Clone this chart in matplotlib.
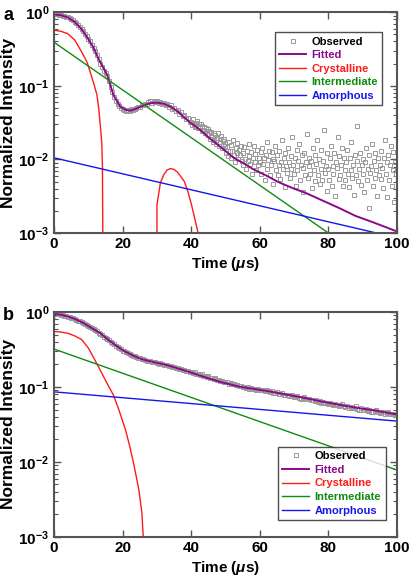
import numpy as np
import matplotlib
matplotlib.use("Agg")
import matplotlib.pyplot as plt
from matplotlib.ticker import FixedLocator, FixedFormatter, LogLocator, NullFormatter

plt.rcParams['font.family'] = ['Liberation Sans', 'DejaVu Sans']
plt.rcParams['font.weight'] = 'bold'
plt.rcParams['mathtext.fontset'] = 'custom'
plt.rcParams['mathtext.rm'] = 'Liberation Sans:bold'
plt.rcParams['mathtext.bf'] = 'Liberation Sans:bold'
plt.rcParams['mathtext.it'] = 'Liberation Sans:italic:bold'

# ---- panel a data ----
# observed, 0 - 39.5 us every 0.5 us
obs_a_early = [0.95, 0.94, 0.94, 0.93, 0.92, 0.90, 0.89, 0.87, 0.85, 0.83,
               0.80, 0.78, 0.74, 0.71, 0.67, 0.63, 0.59, 0.55, 0.51, 0.47,
               0.43, 0.40, 0.36, 0.33, 0.30, 0.26, 0.23, 0.20, 0.18, 0.16,
               0.15, 0.135, 0.115, 0.097, 0.082, 0.071, 0.062, 0.057, 0.053, 0.050,
               0.048, 0.047, 0.046, 0.047, 0.046, 0.048, 0.047, 0.049, 0.050, 0.052,
               0.051, 0.054, 0.055, 0.057, 0.056, 0.060, 0.062, 0.059, 0.063, 0.060,
               0.062, 0.058, 0.061, 0.057, 0.059, 0.055, 0.056, 0.052, 0.054, 0.049,
               0.050, 0.046, 0.047, 0.042, 0.044, 0.039, 0.040, 0.035, 0.037, 0.032]
# observed, 40 - 99.75 us every 0.25 us (units of 1e-3)
obs_a_late = [32.5, 29.1, 35.2, 30.4, 27.3, 31.6, 28.2, 33.7, 26.4, 29.8, 27.1, 30.5, 24.2, 28.6, 25.3, 27.9, 23.1, 26.5, 22.4, 25.7,
              21.3, 24.6, 19.2, 23.4, 20.1, 17.4, 22.7, 18.3, 21.5, 16.2, 19.6, 23.1, 15.4, 18.8, 17.2, 20.6, 14.3, 17.7, 19.1, 15.2,
              16.4, 12.3, 14.7, 11.2, 17.5, 13.1, 10.4, 15.6, 12.8, 18.2, 11.6, 9.3, 14.2, 12.1, 16.8, 10.2, 13.5, 11.4, 15.1, 9.6,
              12.4, 8.3, 14.6, 10.1, 7.4, 13.2, 9.5, 16.3, 11.2, 8.7, 12.6, 6.4, 10.5, 15.2, 9.1, 11.7, 7.2, 13.5, 8.4, 10.3,
              9.2, 12.5, 6.3, 14.1, 8.6, 10.4, 5.2, 11.3, 17.4, 7.5, 9.7, 13.2, 6.1, 8.3, 12.6, 10.1, 4.6, 9.4, 15.3, 7.2,
              11.4, 6.2, 8.5, 13.1, 5.4, 9.2, 18.5, 7.3, 10.6, 4.2, 12.3, 8.1, 6.6, 14.4, 9.3, 5.5, 11.1, 7.4, 20.2, 8.3,
              6.4, 10.3, 4.3, 13.6, 7.1, 9.6, 16.2, 5.3, 8.4, 11.5, 3.6, 7.6, 12.2, 6.1, 9.1, 22.3, 5.6, 8.2, 10.5, 6.3,
              9.4, 4.1, 14.3, 7.2, 5.1, 11.6, 8.6, 18.4, 6.2, 10.2, 4.6, 7.4, 13.3, 5.3, 9.5, 25.1, 6.6, 8.1, 3.7, 12.4,
              7.3, 5.2, 10.6, 15.4, 4.3, 8.2, 6.4, 12.1, 3.2, 9.3, 7.6, 20.4, 5.4, 11.2, 6.1, 8.5, 14.2, 4.4, 10.3, 7.1,
              5.3, 9.2, 13.4, 6.3, 4.2, 10.5, 7.2, 17.1, 5.6, 8.3, 3.3, 11.4, 6.2, 9.6, 28.2, 5.1, 7.5, 12.3, 4.5, 8.4,
              10.2, 6.4, 3.6, 9.1, 14.5, 5.2, 7.3, 2.2, 11.3, 6.6, 8.2, 16.3, 4.3, 9.4, 5.5, 12.2, 7.1, 3.2, 10.4, 6.2,
              8.3, 13.2, 5.4, 7.6, 4.1, 10.3, 18.2, 6.3, 9.2, 3.1, 11.6, 5.2, 8.4, 15.1, 4.3, 7.2, 12.5, 2.6, 9.3, 6.4]

fit_a_t = [0, 2, 4, 6, 8, 10, 11.5, 13, 15.5, 17.3, 19.3, 21, 22.2, 24, 26, 28, 30, 32,
           34, 36, 38, 40, 42.7, 45, 47.6, 50, 52.4, 55, 58, 61.7, 65.5, 70, 73.4, 78,
           83, 88, 93, 100]
fit_a = [0.93, 0.91, 0.85, 0.74, 0.59, 0.43, 0.33, 0.23, 0.14, 0.075, 0.052, 0.047,
         0.046, 0.049, 0.054, 0.058, 0.059, 0.057, 0.052, 0.045, 0.037, 0.031, 0.025,
         0.020, 0.016, 0.013, 0.0105, 0.0090, 0.0074, 0.0061, 0.0049, 0.0040, 0.0035,
         0.0028, 0.0022, 0.0017, 0.0014, 0.00105]

cry_a1_t = [0, 2, 4, 6, 8, 9.6, 10.5, 11.5, 12.5, 13, 13.5, 13.9, 14.1, 14.2]
cry_a1 = [0.57, 0.55, 0.51, 0.42, 0.29, 0.21, 0.155, 0.11, 0.075, 0.05, 0.028, 0.017,
          0.008, 0.001]
cry_a2_t = [30, 30, 31, 32, 33, 34, 35, 36, 37, 38, 39, 40, 41, 42]
cry_a2 = [0.001, 0.0024, 0.0048, 0.0062, 0.0072, 0.0075, 0.0073, 0.0067, 0.0058,
          0.0050, 0.0037, 0.0025, 0.0016, 0.001]

int_a_t = [0, 80]
int_a = [0.39, 0.001]
amo_a_t = [0, 94]
amo_a = [0.0105, 0.001]

# ---- panel b data ----
# observed, 0 - 99.5 us every 0.5 us
obs_b = [0.95, 0.94, 0.93, 0.93, 0.92, 0.90, 0.89, 0.88, 0.87, 0.85,
         0.83, 0.82, 0.80, 0.78, 0.77, 0.75, 0.73, 0.71, 0.69, 0.67,
         0.65, 0.63, 0.61, 0.59, 0.57, 0.55, 0.53, 0.51, 0.49, 0.47,
         0.45, 0.43, 0.42, 0.40, 0.38, 0.37, 0.355, 0.34, 0.33, 0.32,
         0.305, 0.30, 0.29, 0.28, 0.275, 0.265, 0.26, 0.255, 0.25, 0.245,
         0.24, 0.235, 0.233, 0.228, 0.225, 0.222, 0.220, 0.218, 0.214, 0.212,
         0.21, 0.205, 0.206, 0.20, 0.198, 0.195, 0.196, 0.19, 0.188, 0.185,
         0.186, 0.18, 0.178, 0.174, 0.175, 0.17, 0.168, 0.164, 0.165, 0.16,
         0.158, 0.155, 0.156, 0.15, 0.149, 0.145, 0.147, 0.141, 0.14, 0.137,
         0.138, 0.132, 0.133, 0.128, 0.13, 0.124, 0.125, 0.12, 0.121, 0.117,
         0.115, 0.116, 0.111, 0.112, 0.108, 0.11, 0.105, 0.106, 0.103, 0.104,
         0.099, 0.101, 0.098, 0.099, 0.095, 0.097, 0.094, 0.095, 0.092, 0.094,
         0.092, 0.09, 0.091, 0.088, 0.09, 0.087, 0.086, 0.088, 0.084, 0.083,
         0.085, 0.081, 0.08, 0.082, 0.078, 0.077, 0.079, 0.076, 0.075, 0.077,
         0.074, 0.073, 0.075, 0.071, 0.07, 0.072, 0.074, 0.069, 0.068, 0.07,
         0.066, 0.067, 0.065, 0.066, 0.063, 0.064, 0.062, 0.063, 0.061, 0.062,
         0.06, 0.061, 0.059, 0.058, 0.06, 0.057, 0.056, 0.058, 0.059, 0.055,
         0.054, 0.056, 0.053, 0.054, 0.052, 0.053, 0.055, 0.051, 0.05, 0.052,
         0.05, 0.049, 0.051, 0.048, 0.05, 0.047, 0.046, 0.048, 0.049, 0.046,
         0.045, 0.047, 0.046, 0.044, 0.045, 0.047, 0.044, 0.043, 0.044, 0.042]

fit_b_t = [0, 2, 4, 6, 8.6, 11, 13.5, 16, 18.3, 20.5, 23.2, 25.5, 28, 33, 38.8, 44, 49,
           54, 59, 63.6, 68.5, 73.4, 78, 83, 88, 93, 100]
fit_b = [0.94, 0.92, 0.87, 0.81, 0.71, 0.61, 0.52, 0.42, 0.35, 0.30, 0.26, 0.235, 0.22,
         0.195, 0.162, 0.135, 0.115, 0.101, 0.093, 0.086, 0.078, 0.071, 0.064, 0.058,
         0.053, 0.049, 0.043]

cry_b_t = [0, 2, 4, 6, 8, 10, 12, 14, 16, 17.3, 19, 20.8, 22, 23.2, 24.7, 25.6, 26]
cry_b = [0.55, 0.54, 0.52, 0.48, 0.43, 0.33, 0.224, 0.15, 0.10, 0.078, 0.048, 0.027,
         0.0166, 0.0095, 0.0043, 0.0021, 0.001]

int_b_t = [0, 100]
int_b = [0.32, 0.0078]
amo_b_t = [0, 100]
amo_b = [0.086, 0.035]

t_a_early = np.arange(len(obs_a_early)) * 0.5
t_a_late = 40 + np.arange(len(obs_a_late)) * 0.25
t_a = np.concatenate([t_a_early, t_a_late])
obs_a = np.concatenate([obs_a_early, np.array(obs_a_late) * 1e-3])
t_b = np.arange(len(obs_b)) * 0.5

c_purple = '#8a0a8a'
c_red = '#ff1a1a'
c_green = '#118a11'
c_blue = '#1515ee'

fig = plt.figure(figsize=(4.1, 5.81), dpi=100)
ax_a = fig.add_axes([0.132, 0.599, 0.836, 0.380])
ax_b = fig.add_axes([0.132, 0.076, 0.836, 0.387])


def style(ax):
    ax.set_yscale('log')
    ax.set_xlim(0, 100)
    ax.set_ylim(1e-3, 1)
    ax.xaxis.set_major_locator(FixedLocator([0, 20, 40, 60, 80, 100]))
    ax.yaxis.set_major_locator(FixedLocator([1e-3, 1e-2, 1e-1, 1]))
    ax.yaxis.set_major_formatter(FixedFormatter(
        [r'$\mathbf{10^{-3}}$', r'$\mathbf{10^{-2}}$', r'$\mathbf{10^{-1}}$', r'$\mathbf{10^{0}}$']))
    ax.yaxis.set_minor_locator(LogLocator(base=10, subs=np.arange(2, 10)))
    ax.yaxis.set_minor_formatter(NullFormatter())
    ax.tick_params(which='both', direction='in', top=True, right=True,
                   color='#555555', labelsize=11)
    ax.tick_params(which='major', length=5, width=1)
    ax.tick_params(which='minor', length=3, width=0.8)
    ax.tick_params(axis='x', pad=3)
    for s in ax.spines.values():
        s.set_color('#555555')
        s.set_linewidth(1.5)
    for lab in ax.get_xticklabels():
        lab.set_fontweight('bold')
    ax.set_xlabel(r'Time ($\mu$s)', fontsize=11, fontweight='bold', labelpad=3)
    ax.set_ylabel('Normalized Intensity', fontsize=12.5, fontweight='bold', labelpad=2)


def legend(ax, anchor):
    leg = ax.legend(loc='upper left', bbox_to_anchor=anchor,
                    frameon=True, fancybox=False, edgecolor='#222222',
                    handlelength=2.4, handletextpad=0.5, labelspacing=0.32,
                    borderpad=0.4, borderaxespad=0,
                    prop={'weight': 'bold', 'size': 8})
    leg.get_frame().set_linewidth(1.0)
    cols = ['black', c_purple, c_red, c_green, c_blue]
    for txt, c in zip(leg.get_texts(), cols):
        txt.set_color(c)


# panel a
ax_a.plot(t_a, obs_a, 's', ms=3, mfc='none', mec='#999999', mew=0.7, label='Observed')
ax_a.plot(fit_a_t, fit_a, '-', color=c_purple, lw=1.4, label='Fitted')
ax_a.plot(cry_a1_t, cry_a1, '-', color=c_red, lw=1.0, label='Crystalline')
ax_a.plot(cry_a2_t, cry_a2, '-', color=c_red, lw=1.0)
ax_a.plot(int_a_t, int_a, '-', color=c_green, lw=1.0, label='Intermediate')
ax_a.plot(amo_a_t, amo_a, '-', color=c_blue, lw=1.0, label='Amorphous')
style(ax_a)
legend(ax_a, (0.644, 0.91))

# panel b
ax_b.plot(t_b, obs_b, 's', ms=3, mfc='none', mec='#999999', mew=0.7, label='Observed')
ax_b.plot(fit_b_t, fit_b, '-', color=c_purple, lw=1.4, label='Fitted')
ax_b.plot(cry_b_t, cry_b, '-', color=c_red, lw=1.0, label='Crystalline')
ax_b.plot(int_b_t, int_b, '-', color=c_green, lw=1.0, label='Intermediate')
ax_b.plot(amo_b_t, amo_b, '-', color=c_blue, lw=1.0, label='Amorphous')
style(ax_b)
legend(ax_b, (0.653, 0.40))

fig.text(0.008, 0.988, 'a', fontsize=13, fontweight='bold', va='top')
fig.text(0.008, 0.472, 'b', fontsize=13, fontweight='bold', va='top')

fig.savefig('out.png', dpi=100)
